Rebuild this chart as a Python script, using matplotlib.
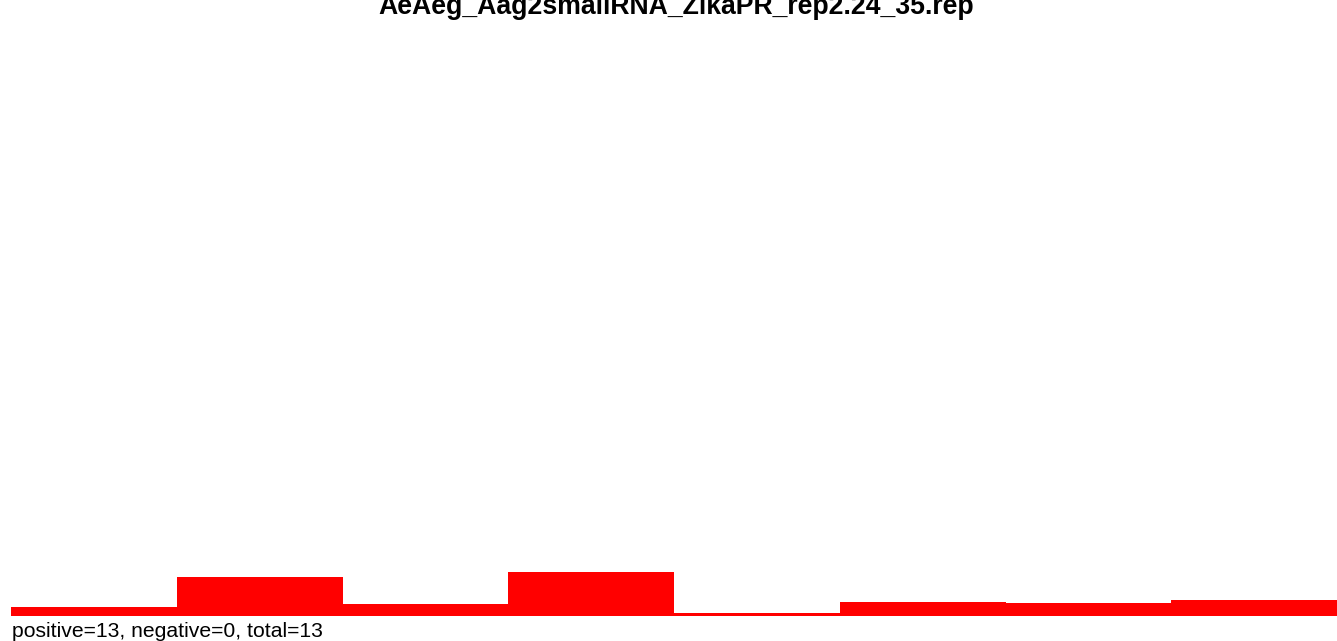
import matplotlib
matplotlib.use("Agg")
import matplotlib.pyplot as plt

title = "AeAeg_Aag2smallRNA_ZikaPR_rep2.24_35.rep"
summary = "positive=13, negative=0, total=13"
bins = [1, 2, 3, 4, 5, 6, 7, 8]
values = [0.82, 3.9, 1.17, 4.37, 0.3, 1.37, 1.27, 1.57]

W, H = 1337, 641
fig = plt.figure(figsize=(W / 100, H / 100), dpi=100)
plt.rcParams["font.family"] = ["Liberation Sans", "DejaVu Sans"]

ax = fig.add_axes([11 / W, 25.5 / H, 1 - 11 / W, (615.5 - 30) / H])
ax.bar(bins, values, width=1.0, align="center", color="#ff0000", linewidth=0)
ax.axhline(0, color="#a0a0a0", lw=1, zorder=0)
ax.set_xlim(0.5, 8.5)
ax.set_ylim(0, 58.55)
ax.axis("off")

fig.text(0.5 + 8 / W, 1 - 13.5 / H, title, ha="center", va="baseline",
         fontsize=19.2, fontweight="bold")
fig.text(12 / W, 1 - 637 / H, summary, ha="left", va="baseline", fontsize=15.2)

fig.savefig("out.png", dpi=100)
